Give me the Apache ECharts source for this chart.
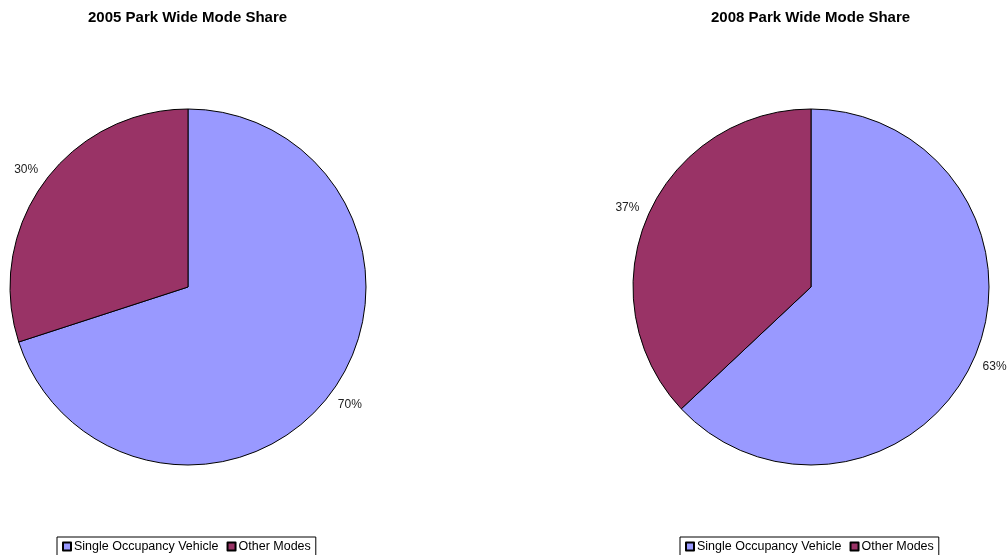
<!DOCTYPE html>
<html><head><meta charset="utf-8">
<script src="https://cdn.jsdelivr.net/npm/echarts@6/dist/echarts.min.js"></script>
<style>html,body{margin:0;padding:0;background:#fff}#c{width:1007px;height:555px}</style>
</head><body><div id="c"></div>
<script>
const categories = ['Single Occupancy Vehicle', 'Other Modes'];
const titles = ['2005 Park Wide Mode Share', '2008 Park Wide Mode Share'];
const values2005 = [70, 30];
const values2008 = [63, 37];
const colors = ['#9999FF', '#993366'];

const chart = echarts.init(document.getElementById('c'), null, {renderer: 'canvas'});
const font = 'Liberation Sans, Arial, sans-serif';
const LABEL_OFFSET = 22;
function layoutFn(params) {
  const pts = params.labelLinePoints;
  if (!pts) return {};
  const p0 = pts[0], p1 = pts[1];
  let dx = p1[0] - p0[0], dy = p1[1] - p0[1];
  const len = Math.hypot(dx, dy) || 1;
  dx /= len; dy /= len;
  return {x: p0[0] + dx * LABEL_OFFSET, y: p0[1] + dy * LABEL_OFFSET, align: 'center', verticalAlign: 'middle'};
}
function mkSeries(vals, cx) {
  return {
    type: 'pie', center: [cx, 287], radius: 178, startAngle: 90, clockwise: true,
    animation: false, silent: true, avoidLabelOverlap: false,
    data: categories.map((n, i) => ({name: n, value: vals[i], itemStyle: {color: colors[i]}})),
    itemStyle: {borderColor: '#000', borderWidth: 1},
    label: {show: true, position: 'outside', formatter: '{c}%', color: '#222', fontFamily: font, fontSize: 12, overflow: 'none'},
    labelLine: {show: false, length: 10, length2: 0},
    labelLayout: layoutFn,
    emphasis: {disabled: true}
  };
}
const legendCommon = {
  orient: 'horizontal', top: 537, icon: 'rect', itemWidth: 8, itemHeight: 8, itemGap: 8,
  borderColor: '#000', borderWidth: 1, borderRadius: 0, padding: [3, 5, 3, 5],
  textStyle: {fontFamily: font, fontSize: 12.5, color: '#000', padding: [0, 0, 0, -2]},
  selectedMode: false
};
chart.setOption({
  backgroundColor: '#fff',
  title: [
    {text: titles[0], left: 83, top: 5, textStyle: {fontFamily: font, fontSize: 15, fontWeight: 'bold', color: '#000'}},
    {text: titles[1], left: 706, top: 5, textStyle: {fontFamily: font, fontSize: 15, fontWeight: 'bold', color: '#000'}}
  ],
  legend: [
    Object.assign({}, legendCommon, {left: 57, data: categories}),
    Object.assign({}, legendCommon, {left: 680, data: categories})
  ],
  series: [mkSeries(values2005, 188), mkSeries(values2008, 811)]
});
</script></body></html>
